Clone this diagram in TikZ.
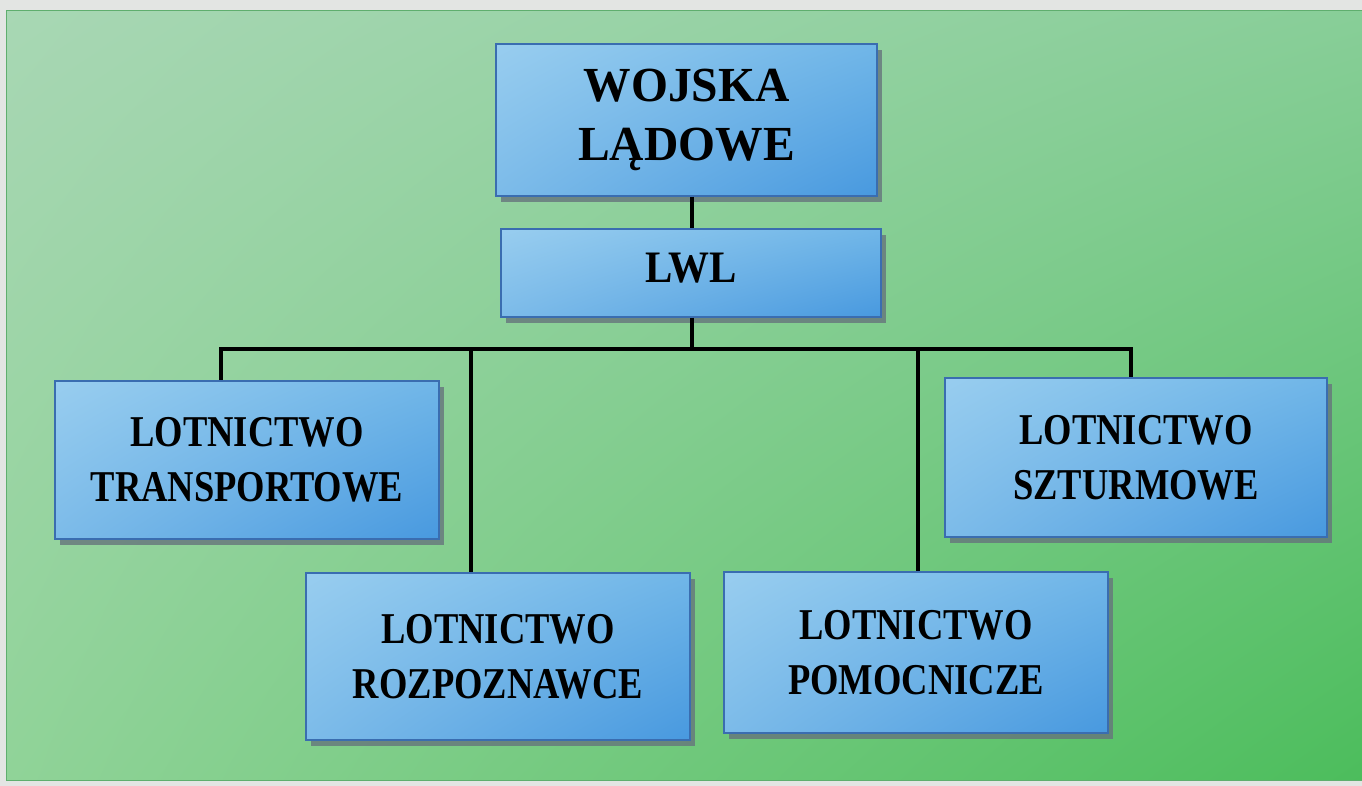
\documentclass[tikz,border=0pt]{standalone}
\usepackage{fontspec}
\usetikzlibrary{shadows,shadings}
\setmainfont{Liberation Serif}
\newfontfamily\headfont[FakeStretch=0.97]{Liberation Serif}
\newfontfamily\lwlfont[FakeStretch=0.91]{Liberation Serif}
\newfontfamily\unitfont[FakeStretch=0.83]{Liberation Serif}

\definecolor{pageGray}{HTML}{E3E5E3}
\definecolor{greenEdge}{HTML}{5FAE6E}
\definecolor{greenUL}{RGB}{168,215,180}
\definecolor{greenUR}{RGB}{136,206,152}
\definecolor{greenLL}{RGB}{144,211,152}
\definecolor{greenLR}{RGB}{76,189,92}
\definecolor{blueUL}{RGB}{152,205,239}
\definecolor{blueUR}{RGB}{112,182,232}
\definecolor{blueLL}{RGB}{124,187,233}
\definecolor{blueLR}{RGB}{72,153,223}
\definecolor{boxEdge}{HTML}{3A6DB0}
\definecolor{shadowGray}{HTML}{66747C}

\tikzset{
  orgbox/.style={
    draw=boxEdge, line width=1.1pt, shade,
    upper left=blueUL, upper right=blueUR,
    lower left=blueLL, lower right=blueLR,
    drop shadow={shadow xshift=5pt, shadow yshift=-6pt, fill=shadowGray, opacity=0.8},
    align=center, inner sep=0pt, text=black
  },
  headbox/.style={orgbox, font=\headfont\bfseries\fontsize{49}{59}\selectfont},
  lwlbox/.style={orgbox, text depth=10pt, font=\lwlfont\bfseries\fontsize{45}{54}\selectfont},
  unitbox/.style={orgbox, font=\unitfont\bfseries\fontsize{44}{55}\selectfont},
  link/.style={line width=4pt, black},
  bus/.style={line width=4.5pt, black, line cap=rect}
}

\begin{document}
\begin{tikzpicture}[x=1pt, y=-1pt]
  \useasboundingbox (0,0) rectangle (1362,786);

  % page and green panel
  \fill[pageGray] (0,0) rectangle (1362,786);
  \shade[upper left=greenUL, upper right=greenUR,
         lower left=greenLL, lower right=greenLR]
    (6,11) rectangle (1362,780);
  \draw[greenEdge, line width=1pt] (1362,11) -- (6,11) -- (6,780) -- (1362,780);

  % boxes
  \node[headbox, minimum width=381pt, minimum height=152pt] (wl)  at (686.5,120) {WOJSKA\\LĄDOWE};
  \node[lwlbox,  minimum width=380pt, minimum height=88pt]  (lwl) at (691,273) {LWL};
  \node[unitbox, minimum width=384pt, minimum height=158pt] (tr)  at (247,460) {LOTNICTWO\\TRANSPORTOWE};
  \node[unitbox, minimum width=382pt, minimum height=159pt] (sz)  at (1136,457.5) {LOTNICTWO\\SZTURMOWE};
  \node[unitbox, minimum width=384pt, minimum height=167pt] (rz)  at (498,656.5) {LOTNICTWO\\ROZPOZNAWCE};
  \node[unitbox, minimum width=384pt, minimum height=161pt] (pm)  at (916,652.5) {LOTNICTWO\\POMOCNICZE};

  % junctions on the distribution bus
  \coordinate (jc) at (692,349);
  \coordinate (jt) at (221,349);
  \coordinate (jr) at (471,349);
  \coordinate (jp) at (918,349);
  \coordinate (js) at (1131,349);

  % connectors
  \draw[link] (wl.south -| jc) -- (lwl.north -| jc);
  \draw[link] (lwl.south -| jc) -- (jc);
  \draw[bus] (jt) -- (js);
  \draw[link] (jt) -- (jt |- tr.north);
  \draw[link] (jr) -- (jr |- rz.north);
  \draw[link] (jp) -- (jp |- pm.north);
  \draw[link] (js) -- (js |- sz.north);
\end{tikzpicture}
\end{document}
